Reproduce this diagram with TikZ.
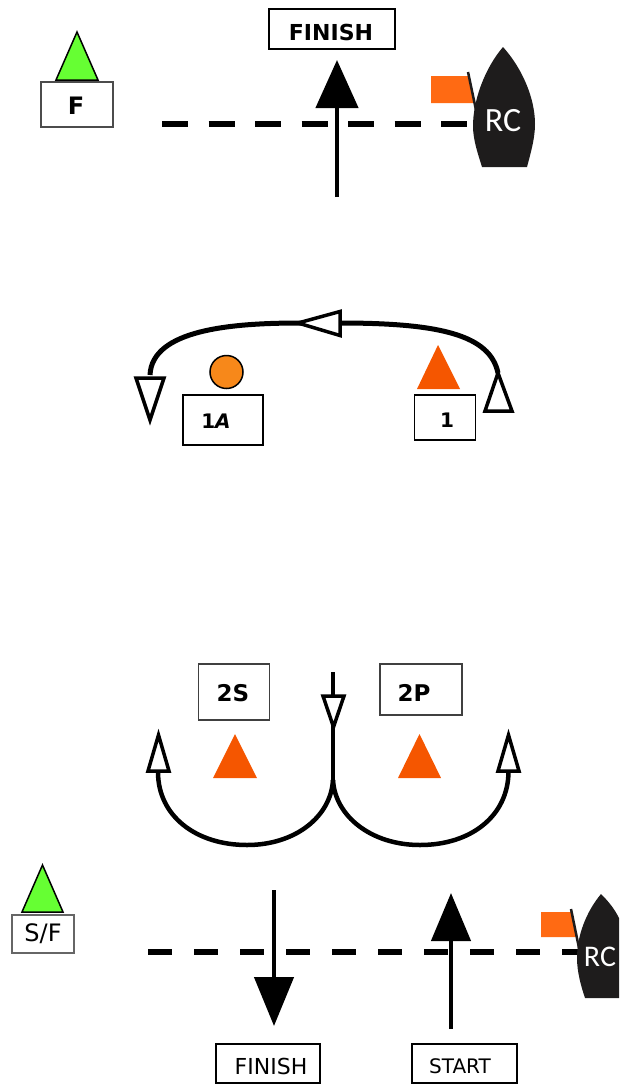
\documentclass[tikz,border=0pt]{standalone}
\usepackage{fontspec}
\setmainfont{DejaVu Sans}
\newfontfamily\rcfont{Carlito}
\usetikzlibrary{arrows.meta}
\definecolor{mgreen}{HTML}{66FF33}
\definecolor{mred}{HTML}{F55600}
\definecolor{morange}{HTML}{F7881A}
\definecolor{mflag}{HTML}{FF6A13}
\definecolor{boat}{HTML}{1E1C1C}
\tikzset{
  x=1pt,y=-1pt,
  lbl/.style={draw=#1,fill=white,line width=1.3pt,inner sep=0pt,anchor=center},
  lbl/.default=black,
  txt/.style={text=black,inner sep=0pt,font=\fontsize{#1}{#1}\selectfont},
  btxt/.style={text=black,inner sep=0pt,font=\fontsize{#1}{#1}\selectfont\bfseries},
  greenmark/.style={draw=black,line width=1.5pt,fill=mgreen,line join=miter},
  shaft/.style={line width=4.5pt,-{Triangle[length=48pt,width=42pt]}},
  startline/.style={line width=6pt,dash pattern=on 26pt off 20.5pt},
  course/.style={line width=#1},
  course/.default=4pt,
  openhead/.style={line width=3.5pt,fill=white,line join=miter},
  flagpole/.style={line width=2.5pt,boat},
  rclabel/.style={text=white,font=\rcfont\fontsize{#1}{#1}\selectfont,inner sep=0pt},
}
\begin{document}
\begin{tikzpicture}
\useasboundingbox (0,0) rectangle (619,1085);

% ---------- top: finish line ----------
\draw[greenmark] (77,32) -- (98,80) -- (56,80) -- cycle;
\node[lbl={black!70},minimum width=72pt,minimum height=45pt] (F) at (77,104.5) {};
\node[btxt=24] (Ft) at (76,106) {F};
\node[lbl,minimum width=126pt,minimum height=40pt] (finishA) at (332,29) {};
\node[btxt=22] (finishAt) at (331,32) {FINISH};
\coordinate (lineAa) at (162,124);
\coordinate (lineAb) at (470,124);
\draw[startline] (lineAa) -- (lineAb);
\coordinate (arrAa) at (337,197);
\coordinate (arrAb) at (337,60);
\draw[shaft] (arrAa) -- (arrAb);
\fill[mflag] (431,76) -- (468,76) -- (475,103) -- (431,103) -- cycle;
\draw[flagpole] (468,72) -- (476,110);
\fill[boat] (503,47) .. controls (485,68) and (473,100) .. (473,126)
  .. controls (473,140) and (478,154) .. (482,167) -- (527,167)
  .. controls (531,152) and (535,138) .. (535,124)
  .. controls (535,98) and (522,68) .. (503,47) -- cycle;
\node[rclabel=34] (rcA) at (503,121) {RC};

% ---------- middle: mark 1 / 1A ----------
\fill[mred] (438,345) -- (460,389) -- (417,389) -- cycle;
\node[lbl,minimum width=61pt,minimum height=45pt] (m1) at (445,417.5) {};
\node[btxt=20] (m1t) at (447,420) {1};
\node[draw=black,line width=1.5pt,fill=morange,circle,minimum size=33pt,inner sep=0pt] (m1a) at (226.5,372) {};
\node[lbl,minimum width=80pt,minimum height=50pt] (box1a) at (223,420) {};
\node[btxt=20] (box1at) at (216,421) {1\textit{A}};
\coordinate (cA) at (498,373);
\coordinate (cB) at (340,323);
\coordinate (cD) at (150,375);
\draw[course=5pt] (cA) .. controls (490,335) and (440,323) .. (cB);
\draw[course=5pt] (cB) -- (300,323) .. controls (230,323) and (152,330) .. (cD);
\draw[openhead] (340,311.5) -- (340,335.5) -- (298,323) -- cycle;
\draw[openhead] (498,373) -- (512,411) -- (485,411) -- cycle;
\draw[openhead] (136,378) -- (164,378) -- (150,420) -- cycle;

% ---------- lower: marks 2S / 2P ----------
\node[lbl={black!75},minimum width=71pt,minimum height=56pt] (box2s) at (234,692) {};
\node[btxt=23] (box2st) at (233,693) {2S};
\node[lbl={black!75},minimum width=82pt,minimum height=51pt] (box2p) at (421,689.5) {};
\node[btxt=23] (box2pt) at (414,693) {2P};
\fill[mred] (235,734) -- (257,778) -- (213,778) -- cycle;
\fill[mred] (419.5,734) -- (441,778) -- (398,778) -- cycle;
\coordinate (gIn) at (333,672);
\coordinate (gSplit) at (333,780);
\coordinate (gL) at (158,772);
\coordinate (gR) at (508.5,772);
\draw[course=4.5pt] (gIn) -- (333,696);
\draw[course=4.5pt] (333,715) -- (gSplit);
\draw[openhead] (323,696) -- (344,696) -- (333.5,727) -- cycle;
\draw[course=4.5pt] (gSplit) .. controls (331,816) and (296,845) .. (247,845)
  .. controls (196,845) and (158,816) .. (gL);
\draw[course=4.5pt] (gSplit) .. controls (335,816) and (371,845) .. (420,845)
  .. controls (471,845) and (508,816) .. (gR);
\draw[openhead] (158.5,735) -- (169,771) -- (148,771) -- cycle;
\draw[openhead] (508.5,735) -- (519,771) -- (498,771) -- cycle;

% ---------- bottom: start / finish ----------
\draw[greenmark] (42.5,865) -- (63,912) -- (22,912) -- cycle;
\node[lbl={black!60},minimum width=62pt,minimum height=38pt] (sf) at (43,934) {};
\node[txt=24] (sft) at (43,934) {S/F};
\coordinate (lineBa) at (148,952);
\coordinate (lineBb) at (582,952);
\draw[startline,dash pattern=on 24pt off 22pt] (lineBa) -- (lineBb);
\coordinate (arrBa) at (274,890);
\coordinate (arrBb) at (274,1026);
\draw[shaft,-{Triangle[length=49pt,width=39pt]}] (arrBa) -- (arrBb);
\coordinate (arrCa) at (451,1029);
\coordinate (arrCb) at (451,893);
\draw[shaft,-{Triangle[length=48pt,width=39pt]}] (arrCa) -- (arrCb);
\node[lbl,minimum width=104pt,minimum height=39pt] (finishB) at (268,1063.5) {};
\node[txt=22] (finishBt) at (271,1066) {FINISH};
\node[lbl,minimum width=105pt,minimum height=39pt] (startB) at (464.5,1063.5) {};
\node[txt=20] (startBt) at (460,1066) {START};
\fill[mflag] (541,912) -- (571,912) -- (577,937) -- (541,937) -- cycle;
\draw[flagpole] (571,909) -- (579,948);
\fill[boat] (601,894) .. controls (586,912) and (577,936) .. (577,958)
  .. controls (577,972) and (581,986) .. (585,998) -- (619,998)
  -- (619,918) .. controls (614,908) and (608,901) .. (601,894) -- cycle;
\node[rclabel=30] (rcB) at (600,957) {RC};
\end{tikzpicture}
\end{document}
